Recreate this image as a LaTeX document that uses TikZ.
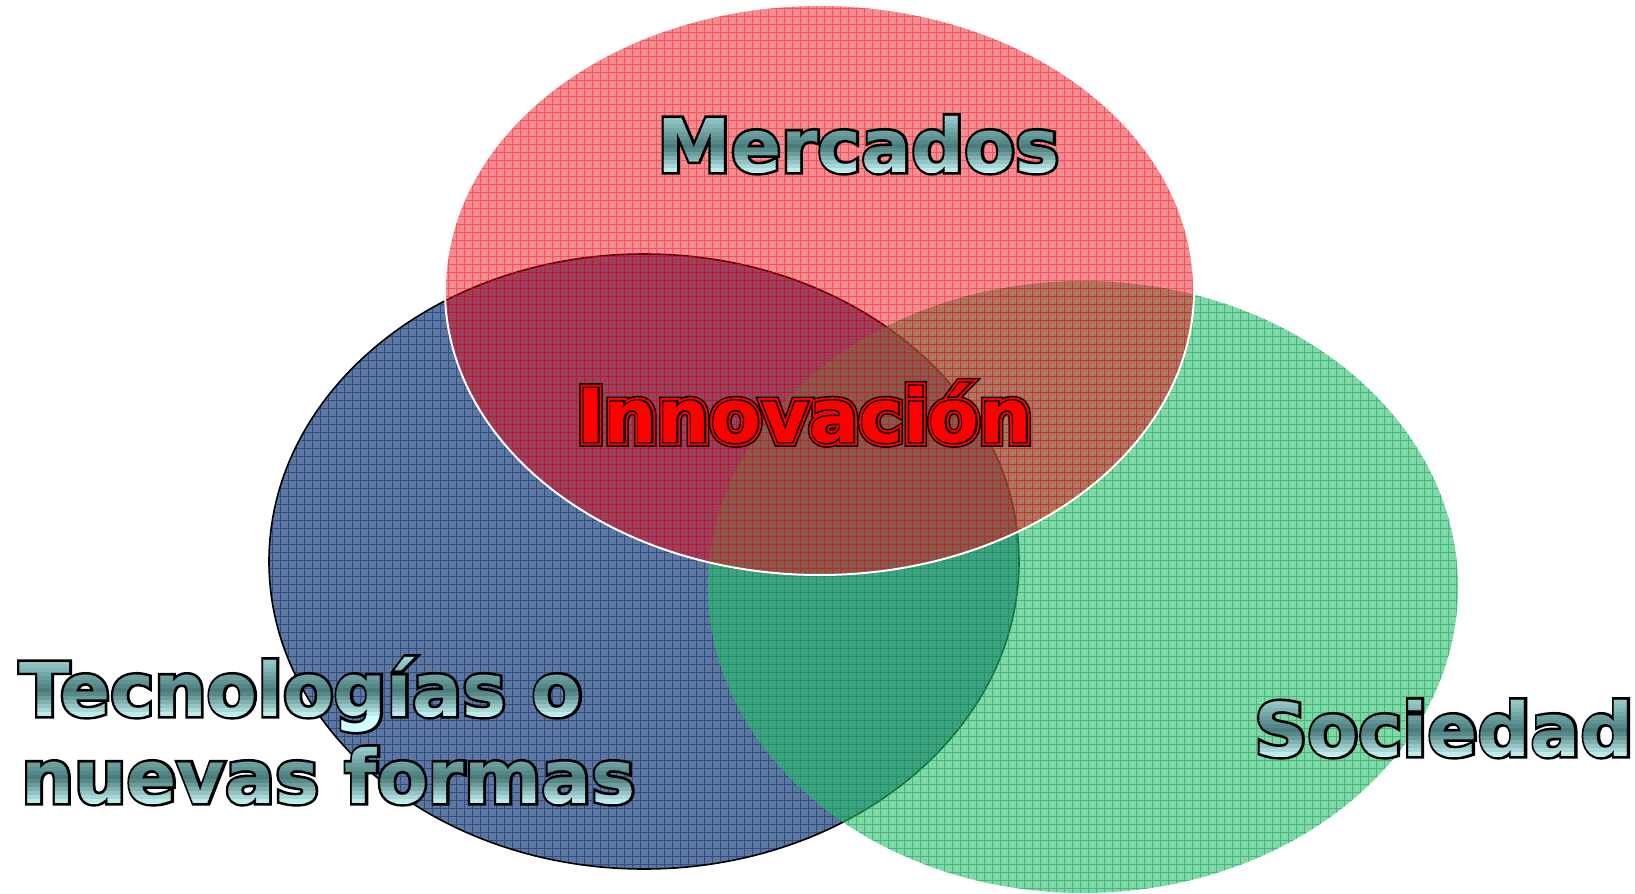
\documentclass[tikz,border=0pt]{standalone}
\usepackage{fontspec}
\setmainfont{DejaVu Sans}
\newfontfamily\outA{DejaVu Sans}[BoldFont={DejaVu Sans Bold},BoldFeatures={FakeBold=7}]
\newfontfamily\outB{DejaVu Sans}[BoldFont={DejaVu Sans Bold},BoldFeatures={FakeBold=13}]
\newfontfamily\outC{DejaVu Sans}[BoldFont={DejaVu Sans Bold},BoldFeatures={FakeBold=9}]
\newfontfamily\outD{DejaVu Sans}[BoldFont={DejaVu Sans Bold},BoldFeatures={FakeBold=4}]
\definecolor{bluefill}{RGB}{70,100,148}
\definecolor{bluegrid}{RGB}{20,50,100}
\definecolor{greenfill}{RGB}{40,190,110}
\definecolor{greengrid}{RGB}{20,150,80}
\definecolor{redfill}{RGB}{233,0,12}
\definecolor{redgrid}{RGB}{250,10,20}
\definecolor{gtop}{RGB}{160,212,212}
\definecolor{gdark}{RGB}{72,122,122}
\definecolor{gbot}{RGB}{210,255,255}
\newcommand\gsize{\fontsize{37}{44}\selectfont\bfseries}
\newcommand\gradtext[4]{%
  \node[gtxt,text=black,font=\outA\gsize] at (#2,#3) {#4};%
  \foreach \i in {0,...,15}{%
    \pgfmathsetmacro\ya{ifthenelse(\i==0,#3-110,#3-60+4*\i)}%
    \pgfmathsetmacro\yb{ifthenelse(\i==15,#3+40,#3-56+4*\i)}%
    \pgfmathsetmacro\tt{\i/15}%
    \pgfmathsetmacro\pp{\tt<0.55 ? 100*\tt/0.55 : 100*(1-\tt)/0.45}%
    \ifdim\tt pt<0.55pt \colorlet{bc}{gdark!\pp!gtop}\else\colorlet{bc}{gdark!\pp!gbot}\fi
    \begin{scope}
      \clip (#2-30,\ya) rectangle (#2+1200,\yb);
      \node[gtxt,text=bc] at (#2,#3) {#4};
    \end{scope}
  }%
  \node[gtxt,text opacity=0] (#1) at (#2,#3) {#4};%
}
\tikzset{
  gtxt/.style={anchor=base west,inner sep=0pt,font=\gsize},
  gridline/.style={line width=0.5pt,step=4pt},
}
\begin{document}
\begin{tikzpicture}[x=0.5pt,y=-0.5pt]
\useasboundingbox (0,0) rectangle (1635,894);
\coordinate (cb) at (644,561.5);
\coordinate (cr) at (819.5,290);
\coordinate (cg) at (1083,587);
% blue
\begin{scope}
  \clip (cb) ellipse [x radius=187.5pt,y radius=153.75pt];
  \fill[bluefill,opacity=0.88] (0,0) rectangle (1635,894);
  \draw[gridline,bluegrid,opacity=0.6] (0,0) grid (1635,894);
\end{scope}
\draw[black,line width=0.8pt] (cb) ellipse [x radius=187.5pt,y radius=153.75pt];
% green
\begin{scope}
  \clip (cg) ellipse [x radius=187.5pt,y radius=153pt];
  \fill[greenfill,opacity=0.6] (0,0) rectangle (1635,894);
  \draw[gridline,greengrid,opacity=0.5] (0,0) grid (1635,894);
\end{scope}
% red
\begin{scope}
  \clip (cr) ellipse [x radius=187.25pt,y radius=142.5pt];
  \fill[redfill,opacity=0.45] (0,0) rectangle (1635,894);
  \draw[gridline,redgrid,opacity=0.45] (0,0) grid (1635,894);
\end{scope}
\draw[white,line width=1pt] (cr) ellipse [x radius=187.25pt,y radius=142.5pt];
% texts
\gradtext{merc}{657}{172}{Mercados}
\gradtext{tec}{19}{716}{Tecnologías o}
\gradtext{nue}{21}{803}{nuevas formas}
\gradtext{soc}{1254}{756}{Sociedad}
\node[gtxt,text=black,font=\outB\gsize] at (577,442) {Innovación};
\node[gtxt,text=red,font=\outC\gsize] at (577,442) {Innovación};
\node[gtxt,text=black,font=\outD\gsize] at (577,442) {Innovación};
\node[gtxt,text=red] (inn) at (577,442) {Innovación};
\end{tikzpicture}
\end{document}
